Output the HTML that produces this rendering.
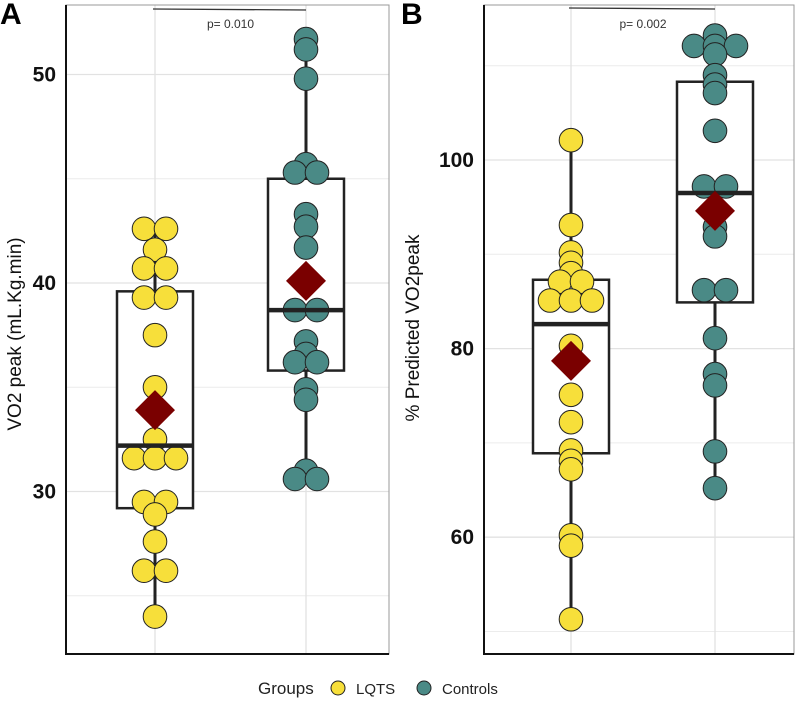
<!DOCTYPE html>
<html><head><meta charset="utf-8"><style>
body{margin:0;background:#fff;}
svg{display:block;font-family:"Liberation Sans",Arial,sans-serif;}
</style></head><body>
<svg id="c" width="800" height="713" viewBox="0 0 800 713" xmlns="http://www.w3.org/2000/svg"></svg>
<script>
const groups = ["LQTS","Controls"];
const aLqts = [42.6,42.6,41.6,40.7,40.7,39.3,39.3,37.5,35.0,32.5,31.6,31.6,31.6,29.5,29.5,28.9,27.6,26.2,26.2,24.0];
const aCtrl = [51.7,51.2,49.8,45.7,45.3,45.3,43.3,42.7,41.7,38.7,38.7,37.2,36.6,36.2,36.2,34.9,34.4,31.0,30.6,30.6];
const aBoxL = [29.2,32.2,39.6,23.8,42.6]; // q1, median, q3, min, max
const aBoxC = [35.8,38.7,45.0,30.6,51.7];
const aMeans = [33.9,40.1];
const aTicks = [30,40,50];
const aMinor = [25,35,45];
const bLqts = [102.1,93.1,90.2,89.1,88.0,87.1,87.1,85.1,85.1,85.1,80.3,75.1,72.2,69.2,68.1,67.2,60.2,59.1,51.3];
const bCtrl = [113.2,112.1,112.1,112.1,111.2,109.0,108.0,107.1,103.1,97.2,97.2,92.9,91.9,86.2,86.2,81.1,77.3,76.1,69.1,65.2];
const bBoxL = [68.9,82.6,87.3,51.3,102.1];
const bBoxC = [84.9,96.5,108.3,65.2,113.2];
const bMeans = [78.7,94.6];
const bTicks = [60,80,100];
const bMinor = [50,70,90,110];
const pA = "p= 0.010", pB = "p= 0.002";

const NS="http://www.w3.org/2000/svg";
const svg=document.getElementById('c');
function mk(tag,attrs,parent,text){const e=document.createElementNS(NS,tag);for(const k in attrs)e.setAttribute(k,attrs[k]);if(text!==undefined)e.textContent=text;(parent||svg).appendChild(e);return e;}

function panel(cfg){
  const g=mk('g',{});
  
  
  const y=v=>cfg.y0-(v-cfg.v0)*cfg.k;
  const L=cfg.left,R=cfg.right,T=5,B=654;
  cfg.minor.forEach(v=>{const l=mk('line',{x1:L,x2:R,y1:y(v),y2:y(v),stroke:'#ececec','stroke-width':1},g);});
  cfg.ticks.forEach(v=>{const l=mk('line',{x1:L,x2:R,y1:y(v),y2:y(v),stroke:'#e2e2e2','stroke-width':1.3},g);});
  cfg.cx.forEach(x=>{const l=mk('line',{x1:x,x2:x,y1:T,y2:B,stroke:'#e2e2e2','stroke-width':1.3},g);});
  const fr=mk('rect',{x:L,y:T,width:R-L,height:B-T,fill:'none',stroke:'#999','stroke-width':1},g);
  
  const ya=mk('line',{x1:L,x2:L,y1:T,y2:B+1,stroke:'#111','stroke-width':2},g);
  
  const xa=mk('line',{x1:L,x2:R,y1:B,y2:B,stroke:'#111','stroke-width':2},g);
  
  cfg.ticks.forEach(v=>{const t=mk('text',{x:L-10,y:y(v)+7,'text-anchor':'end','font-size':21,'font-weight':'bold',fill:'#111'},g,String(v));});
  const yt=mk('text',{x:0,y:0,transform:`translate(${cfg.titleX},${cfg.titleY}) rotate(-90)`,'text-anchor':'middle','font-size':19,fill:'#111'},g,cfg.title);
  
  const lab=mk('text',{x:cfg.labX,y:24,'font-size':30,'font-weight':'bold',fill:'#000'},g,cfg.letter);
  
  const hw=38;
  [cfg.boxL,cfg.boxC].forEach((b,i)=>{
    const cx=cfg.cx[i];
    const w1=mk('line',{x1:cx,x2:cx,y1:y(b[4]),y2:y(b[3]),stroke:'#222','stroke-width':3},g);
    
    const r=mk('rect',{x:cx-hw,y:y(b[2]),width:hw*2,height:y(b[0])-y(b[2]),fill:'#fff',stroke:'#222','stroke-width':2.5},g);
    
  });
  const dots=(vals,cx,fill,nm)=>{
    const cnt={};vals.forEach(v=>cnt[v]=(cnt[v]||0)+1);const seen={};
    vals.forEach(v=>{const n=cnt[v];const i=seen[v]=(seen[v]||0);seen[v]++;
      const sp=n>2?21:22;
      const c=mk('circle',{cx:cx+(i-(n-1)/2)*sp,cy:y(v),r:11.8,fill:fill,stroke:'#222','stroke-width':1},g);
      });
  };
  dots(cfg.lqts,cfg.cx[0],'#f7df3a','dot-lqts');
  dots(cfg.ctrl,cfg.cx[1],'#4a8a86','dot-controls');
  [cfg.boxL,cfg.boxC].forEach((b,i)=>{const cx=cfg.cx[i];
    const m=mk('line',{x1:cx-hw,x2:cx+hw,y1:y(b[1]),y2:y(b[1]),stroke:'#222','stroke-width':4.5},g);
    });
  cfg.means.forEach((v,i)=>{const cx=cfg.cx[i],cy=y(v),s=20;
    const d=mk('polygon',{points:`${cx-s},${cy} ${cx},${cy-s} ${cx+s},${cy} ${cx},${cy+s}`,fill:'#7a0000'},g);
    });
  const pl=mk('line',{x1:cfg.cx[0]-2,x2:cfg.cx[1],y1:cfg.pY,y2:cfg.pY+1,stroke:'#333','stroke-width':1.3},g);
  
  const pt=mk('text',{x:(cfg.cx[0]+cfg.cx[1])/2,y:28,'text-anchor':'middle','font-size':12,fill:'#333'},g,cfg.p);
  
}
panel({name:'panel-a',letter:'A',labX:0,left:66,right:389,y0:283,v0:40,k:20.85,cx:[155,306],
  ticks:aTicks,minor:aMinor,lqts:aLqts,ctrl:aCtrl,boxL:aBoxL,boxC:aBoxC,means:aMeans,
  title:'VO2 peak (mL.Kg.min)',titleX:21,titleY:334,p:pA,pY:9});
panel({name:'panel-b',letter:'B',labX:401,left:484,right:794,y0:160,v0:100,k:9.43,cx:[571,715],
  ticks:bTicks,minor:bMinor,lqts:bLqts,ctrl:bCtrl,boxL:bBoxL,boxC:bBoxC,means:bMeans,
  title:'% Predicted VO2peak',titleX:419,titleY:328,p:pB,pY:8});
const lg=mk('g',{});

const lt=mk('text',{x:258,y:694,'font-size':17,fill:'#222'},lg,'Groups');

const e1=mk('circle',{cx:338,cy:688,r:7,fill:'#f7df3a',stroke:'#222','stroke-width':1},lg);

const t1=mk('text',{x:356,y:694,'font-size':15,fill:'#222'},lg,'LQTS');

const e2=mk('circle',{cx:424,cy:688,r:7,fill:'#4a8a86',stroke:'#222','stroke-width':1},lg);

const t2=mk('text',{x:442,y:694,'font-size':15,fill:'#222'},lg,'Controls');

</script>
</body></html>
